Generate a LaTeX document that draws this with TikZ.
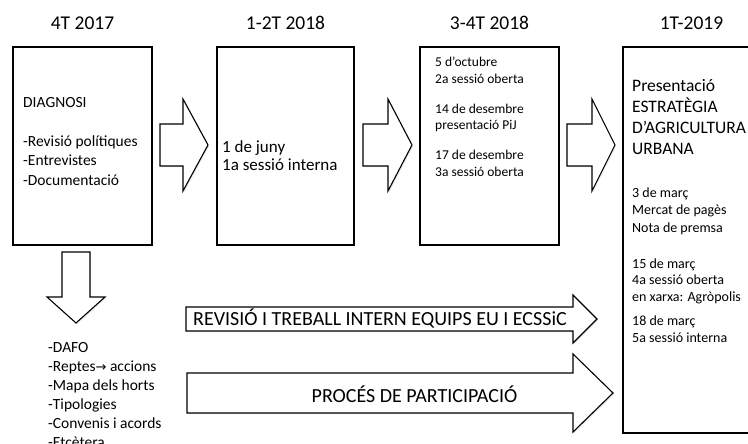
\documentclass[tikz,border=0pt]{standalone}
\usepackage{fontspec}
\setmainfont{Carlito}
\newfontfamily\symfont{DejaVu Sans}
\usepackage{tikz}
\usetikzlibrary{shadows}

\begin{document}
\begin{tikzpicture}
	[
	x=1pt, y=-1pt,
	shade/.style={drop shadow={shadow xshift=1.2pt, shadow yshift=-1.2pt, opacity=0.18}},
	box/.style={draw, line width=1.1pt, fill=white, shade, inner sep=0, outer sep=0},
	blk/.style={draw, line width=1.1pt, fill=white, shade, line join=miter},
	title/.style={anchor=base, font=\fontsize{19.5}{22}\selectfont},
	txt/.style={anchor=base west, align=left, inner sep=0},
	lbl/.style={anchor=base, inner sep=0, font=\fontsize{20}{22}\selectfont},
	]
	\useasboundingbox (0,0) rectangle (748,444);
	\clip (0,0) rectangle (748,444);

		% quarters
		\node[title] (t1) at ( 82.5, 30) {4T 2017};
		\node[title] (t2) at (285.5, 30) {1-2T 2018};
		\node[title] (t3) at (489.5, 30) {3-4T 2018};
		\node[title] (t4) at (691.5, 30) {1T-2019};

		% boxes
		\node[box, minimum width=139, minimum height=198] (b1) at ( 82.5, 146) {};
		\node[box, minimum width=137, minimum height=198] (b2) at (285.5, 146) {};
		\node[box, minimum width=139, minimum height=198] (b3) at (489.5, 146) {};
		\node[box, minimum width=137, minimum height=386] (b4) at (691.5, 240) {};

		% box contents (placed at the last baseline)
		\node[txt, font=\fontsize{15.5}{19.3}\selectfont] (d1) at ( 23, 185)
			{DIAGNOSI\\[19.3pt]-Revisió polítiques\\-Entrevistes\\-Documentació};
		\node[txt, font=\fontsize{17}{18}\selectfont] (d2) at (222, 170.5)
			{1 de juny\\1a sessió interna};
		\node[txt, font=\fontsize{13.5}{16.5}\selectfont] (d3) at (435, 176)
			{5 d’octubre\\2a sessió oberta\\[13.5pt]14 de desembre\\presentació PiJ\\[13.5pt]17 de desembre\\3a sessió oberta};
		\node[txt, font=\fontsize{17.5}{21}\selectfont] (d4) at (632, 154)
			{Presentació\\ESTRATÈGIA\\D’AGRICULTURA\\URBANA};
		\node[txt, font=\fontsize{14}{17.5}\selectfont] (e4) at (632, 232)
			{3 de març\\Mercat de pagès\\Nota de premsa};
		\node[txt, font=\fontsize{14}{16.5}\selectfont] (f4) at (632, 301)
			{15 de març\\4a sessió oberta\\en xarxa: Agròpolis};
		\node[txt, font=\fontsize{14}{17}\selectfont] (g4) at (632, 342)
			{18 de març\\5a sessió interna};

		% block arrows between boxes
		\foreach \xa/\xb/\xc in {160/183/208, 363/388/412, 567/592/615}
			\draw[blk] (\xa,124) -- (\xb,124) -- (\xb,99) -- (\xc,145) -- (\xb,191) -- (\xb,166) -- (\xa,166) -- cycle;

		% down arrow
		\draw[blk] (62,252) -- (90,252) -- (90,297) -- (105,297) -- (76,323) -- (47,297) -- (62,297) -- cycle;
		\node[txt, font=\fontsize{15.5}{19}\selectfont] (out) at (48, 447)
			{-DAFO\\-Reptes{\symfont\fontsize{13}{19}\selectfont →} accions\\-Mapa dels horts\\-Tipologies\\-Convenis i acords\\-Etcètera};

		% long arrows
		\draw[blk] (186,307) -- (573,307) -- (573,295) -- (597,319) -- (573,343) -- (573,331) -- (186,331) -- cycle;
		\draw[blk] (187,373) -- (573,373) -- (573,354) -- (613,393) -- (573,432) -- (573,413) -- (187,413) -- cycle;
		\node[lbl] (rev) at (380, 325) {REVISIÓ I TREBALL INTERN EQUIPS EU I ECSSiC};
		\node[lbl] (par) at (414.5, 402) {PROCÉS DE PARTICIPACIÓ};

	\end{tikzpicture}
\end{document}
